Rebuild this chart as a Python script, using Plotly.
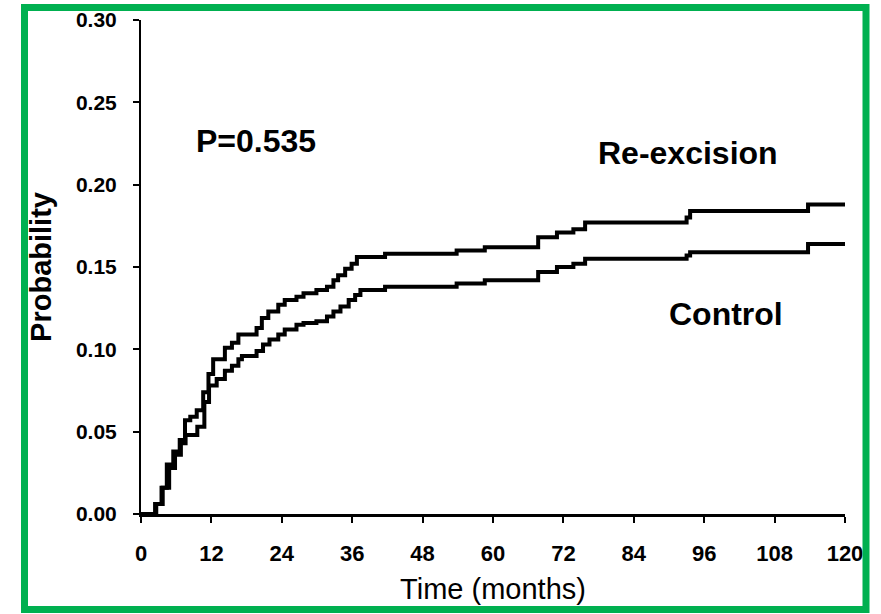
import plotly.graph_objects as go

# ---- data ----
reex_t = [0, 2.4, 3.5, 4.4, 5.5, 6.6, 7.5, 8.4, 9.5, 10.6, 11.5, 12.3, 14.3, 15.5, 16.6,
          19.7, 20.6, 21.7, 23.4, 24.5, 26.5, 27.7, 29.9, 31.7, 32.8, 33.6, 34.8, 35.9,
          36.8, 41.6, 53.8, 58.6, 67.7, 70.9, 73.7, 75.7, 93.0, 93.6, 113.7, 120]
reex_p = [0, 0.006, 0.016, 0.030, 0.038, 0.045, 0.057, 0.059, 0.063, 0.074, 0.085, 0.094,
          0.101, 0.104, 0.109, 0.113, 0.119, 0.123, 0.127, 0.130, 0.132, 0.134, 0.136,
          0.138, 0.142, 0.145, 0.149, 0.152, 0.156, 0.158, 0.160, 0.162, 0.168, 0.171,
          0.173, 0.177, 0.180, 0.184, 0.188, 0.188]

ctrl_t = [0, 2.6, 3.7, 4.8, 5.8, 6.8, 7.6, 9.6, 10.8, 11.6, 12.9, 14.3, 15.5, 16.6, 17.2,
          19.7, 20.8, 21.9, 23.4, 24.5, 26.5, 27.7, 29.9, 31.7, 32.8, 34.0, 35.4, 36.5,
          37.4, 41.6, 53.8, 58.6, 67.7, 70.9, 73.7, 75.7, 93.0, 93.6, 113.7, 120]
ctrl_p = [0, 0.006, 0.016, 0.028, 0.036, 0.043, 0.048, 0.053, 0.068, 0.078, 0.082, 0.087,
          0.090, 0.094, 0.096, 0.099, 0.103, 0.106, 0.109, 0.112, 0.115, 0.116, 0.117,
          0.120, 0.123, 0.126, 0.130, 0.133, 0.136, 0.138, 0.140, 0.142, 0.147, 0.150,
          0.152, 0.155, 0.157, 0.159, 0.164, 0.164]

x_ticks = [0, 12, 24, 36, 48, 60, 72, 84, 96, 108, 120]
y_ticks = [0.00, 0.05, 0.10, 0.15, 0.20, 0.25, 0.30]

# ---- layout geometry (pixels) ----
W, H = 881, 614
ML, MR, MT, MB = 141, 36, 20, 100
PW, PH = W - ML - MR, H - MT - MB

def px(x):
    return (x - ML) / PW

def py(y):
    return (H - MB - y) / PH

FONT = "Liberation Sans, Arial, sans-serif"

fig = go.Figure()
fig.add_trace(go.Scatter(x=reex_t, y=reex_p, mode="lines", line_shape="hv",
                         line=dict(color="black", width=4), name="Re-excision",
                         showlegend=False))
fig.add_trace(go.Scatter(x=ctrl_t, y=ctrl_p, mode="lines", line_shape="hv",
                         line=dict(color="black", width=4), name="Control",
                         showlegend=False))

fig.update_layout(
    width=W, height=H,
    margin=dict(l=ML, r=MR, t=MT, b=MB, autoexpand=False),
    paper_bgcolor="white", plot_bgcolor="white",
    font=dict(family=FONT, color="black"),
    xaxis=dict(range=[0, 120], tickvals=x_ticks, ticktext=[str(v) for v in x_ticks],
               showgrid=False, zeroline=False, showline=True, linecolor="black",
               linewidth=3, ticks="outside", ticklen=6, tickwidth=2, tickcolor="black",
               tickfont=dict(size=22, family=FONT, weight="bold"),
               ticklabelstandoff=12,
               title=dict(text="Time (months)", font=dict(size=29, family=FONT),
                          standoff=14)),
    yaxis=dict(range=[0, 0.30], tickvals=y_ticks, tickformat=".2f",
               showgrid=False, zeroline=False, showline=True, linecolor="black",
               linewidth=2, ticks="outside", ticklen=6, tickwidth=2, tickcolor="black",
               tickfont=dict(size=21, family=FONT, weight="bold"),
               ticklabelstandoff=12,
               title=dict(text="Probability",
                          font=dict(size=29, family=FONT, weight="bold"),
                          standoff=16)),
)

annots = [
    ("P=0.535", 256, 141),
    ("Re-excision", 688, 153),
    ("Control", 726, 314),
]
for txt, x, y in annots:
    fig.add_annotation(text=txt, xref="paper", yref="paper", x=px(x), y=py(y),
                       xanchor="center", yanchor="middle", showarrow=False,
                       font=dict(size=32, family=FONT, color="black", weight="bold"))

# green frame
fig.add_shape(type="rect", xref="paper", yref="paper",
              x0=px(24.5), x1=px(866), y0=py(609.5), y1=py(7.5),
              line=dict(color="#00B050", width=7), fillcolor="rgba(0,0,0,0)",
              layer="above")

fig.write_html("out.html")
